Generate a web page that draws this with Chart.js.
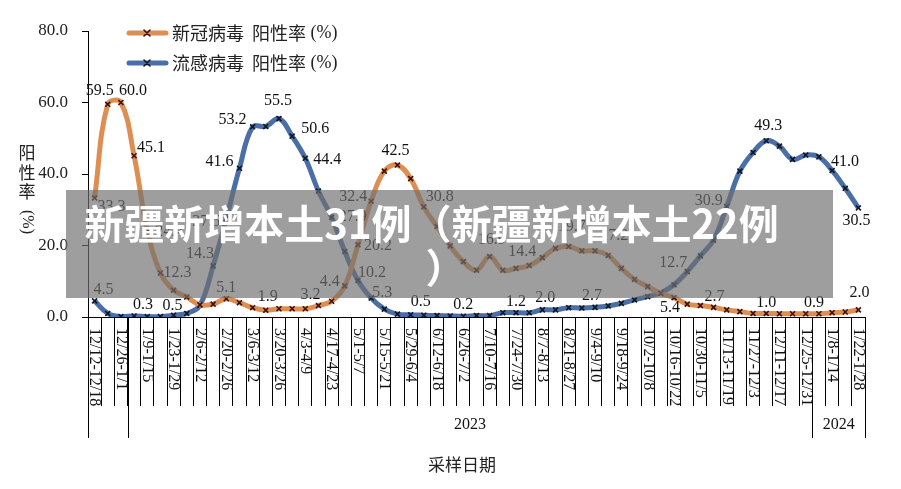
<!DOCTYPE html>
<html>
<head>
<meta charset="utf-8">
<script src="https://cdn.jsdelivr.net/npm/chart.js@4.4.1/dist/chart.umd.min.js"></script>
<style>
  html, body { margin: 0; padding: 0; background: #fff; }
  #wrap { position: relative; width: 901px; height: 489px; }
  #banner {
    position: absolute; left: 66px; top: 190px; width: 767px; height: 108px;
    background: rgba(112, 112, 112, 0.68);
  }
  #banner div {
    position: absolute; left: 0; width: 100%; text-align: center; color: #fff;
    font-family: "Noto Sans CJK SC", sans-serif; font-weight: 700; font-size: 40px;
    line-height: 44px; white-space: nowrap;
  }
</style>
</head>
<body>
<div id="wrap">
  <canvas id="myChart"></canvas>
  <div id="banner">
    <div style="top:10px; margin-left:-18px;">新疆新增本土31例（新疆新增本土22例</div>
    <div style="top:54px; margin-left:-4px;">）</div>
  </div>
</div>
<script>
// 采样周
const weeks = [
  '12/12-12/18', '12/19-12/25', '12/26-1/1', '1/2-1/8', '1/9-1/15', '1/16-1/22',
  '1/23-1/29', '1/30-2/5', '2/6-2/12', '2/13-2/19', '2/20-2/26', '2/27-3/5',
  '3/6-3/12', '3/13-3/19', '3/20-3/26', '3/27-4/2', '4/3-4/9', '4/10-4/16',
  '4/17-4/23', '4/24-4/30', '5/1-5/7', '5/8-5/14', '5/15-5/21', '5/22-5/28',
  '5/29-6/4', '6/5-6/11', '6/12-6/18', '6/19-6/25', '6/26-7/2', '7/3-7/9',
  '7/10-7/16', '7/17-7/23', '7/24-7/30', '7/31-8/6', '8/7-8/13', '8/14-8/20',
  '8/21-8/27', '8/28-9/3', '9/4-9/10', '9/11-9/17', '9/18-9/24', '9/25-10/1',
  '10/2-10/8', '10/9-10/15', '10/16-10/22', '10/23-10/29', '10/30-11/5', '11/6-11/12',
  '11/13-11/19', '11/20-11/26', '11/27-12/3', '12/4-12/10', '12/11-12/17', '12/18-12/24',
  '12/25-12/31', '1/1-1/7', '1/8-1/14', '1/15-1/21', '1/22-1/28'
];

// 年份分组: [年份, 第一周, 最后一周]
const years = [['', 0, 2], ['2023', 3, 54], ['2024', 55, 58]];

const covidRate = [
  33.3, 59.5, 60.0, 45.1, 24.4, 12.3, 7.5, 5.6, 3.4, 3.6,
  5.1, 4.0, 2.6, 1.9, 2.3, 2.3, 2.3, 3.2, 4.4, 8.7,
  20.2, 32.4, 40.8, 42.5, 38.7, 30.8, 25.3, 19.9, 15.5, 13.1,
  16.9, 13.1, 13.6, 14.4, 16.6, 19.2, 19.7, 18.5, 18.5, 17.2,
  13.6, 10.5, 8.5, 6.6, 5.4, 3.6, 3.2, 2.7, 2.0, 1.5,
  1.0, 1.0, 0.9, 0.9, 0.9, 0.9, 1.2, 1.4, 2.0
];

const fluRate = [
  4.5, 1.0, 0.1, 0.3, 0.1, 0.1, 0.5, 1.0, 3.3, 14.3,
  27.5, 41.6, 53.2, 53.3, 55.5, 50.6, 44.4, 35.2, 27.9, 18.3,
  10.2, 5.3, 2.2, 0.8, 0.6, 0.5, 0.4, 0.3, 0.2, 0.4,
  0.4, 1.2, 1.2, 1.2, 2.0, 2.0, 2.6, 2.5, 2.7, 3.1,
  3.8, 4.8, 5.7, 6.8, 9.0, 12.7, 17.1, 21.5, 30.9, 40.8,
  46.0, 49.3, 47.8, 44.1, 45.3, 44.8, 41.0, 36.0, 30.5
];

const yTicks = [0, 20, 40, 60, 80];

// 数据标签: 点的序号 -> 标签中心相对于点的偏移
const covidLabelAt = {
  0: [17, 9], 1: [-8, -13], 2: [12, -12], 3: [17, -8], 4: [22, 2], 5: [17, 0],
  10: [0, -11], 13: [2, -13], 17: [-8, -11], 18: [-2, -19], 20: [20, 1], 21: [-18, -4],
  23: [-2, -14], 25: [16, -10], 30: [2, -17], 33: [-7, -14], 36: [3, -20], 39: [6, -20],
  44: [-4, 10], 47: [1, -11], 51: [0, -11], 55: [-5, -11], 58: [1, -17]
};
const fluLabelAt = {
  0: [9, -11], 3: [9, -11], 6: [-1, -9], 9: [-13, -12], 10: [-20, 3], 11: [-20, -6],
  12: [-20, -7], 14: [-1, -18], 15: [23, -7], 16: [22, 2], 18: [21, 0], 20: [14, -8],
  21: [11, -5], 25: [-3, -13], 28: [0, -11], 32: [0, -11], 34: [3, -12], 38: [-3, -12],
  45: [-14, -9], 48: [-18, -6], 51: [2, -15], 56: [13, -9], 58: [-2, 13]
};

const serif = '"Liberation Serif", "Times New Roman", serif';
const cjk = '"Noto Sans CJK SC", sans-serif';

function drawCross(ctx, x, y, r, color) {
  ctx.save();
  ctx.strokeStyle = color;
  ctx.lineWidth = 1.6;
  ctx.beginPath();
  ctx.moveTo(x - r, y - r); ctx.lineTo(x + r, y + r);
  ctx.moveTo(x + r, y - r); ctx.lineTo(x - r, y + r);
  ctx.stroke();
  ctx.restore();
}

const extras = {
  id: 'extras',
  afterDatasetsDraw(chart) {
    const ctx = chart.ctx;
    ctx.save();
    ctx.font = '16px ' + serif;
    ctx.fillStyle = '#111';
    ctx.textAlign = 'center';
    ctx.textBaseline = 'middle';
    [covidLabelAt, fluLabelAt].forEach((at, di) => {
      const meta = chart.getDatasetMeta(di);
      const vals = chart.data.datasets[di].data;
      Object.keys(at).forEach(k => {
        const p = meta.data[+k];
        ctx.fillText(vals[+k].toFixed(1), p.x + at[k][0], p.y + at[k][1]);
      });
    });
    ctx.restore();
  },
  afterDraw(chart) {
    const ctx = chart.ctx;
    const x = chart.scales.x;
    const area = chart.chartArea;
    const step = x.getPixelForValue(1) - x.getPixelForValue(0);
    ctx.save();

    // x 轴标签 (竖排, 每两周一个)
    ctx.font = '16px ' + serif;
    ctx.fillStyle = '#111';
    ctx.textAlign = 'left';
    ctx.textBaseline = 'middle';
    weeks.forEach((w, i) => {
      if (i % 2) return;
      ctx.save();
      ctx.translate(x.getPixelForValue(i), area.bottom + 11);
      ctx.rotate(Math.PI / 2);
      ctx.fillText(w, 0, 0);
      ctx.restore();
    });

    // 年份分组
    ctx.strokeStyle = '#000';
    ctx.lineWidth = 1;
    ctx.font = '16px ' + serif;
    ctx.textAlign = 'center';
    years.forEach(([label, a, b]) => {
      const l = x.getPixelForValue(a) - step / 2;
      const r = x.getPixelForValue(b) + step / 2;
      [l, r].forEach(px => {
        ctx.beginPath();
        ctx.moveTo(Math.round(px) + 0.5, area.bottom);
        ctx.lineTo(Math.round(px) + 0.5, area.bottom + 121);
        ctx.stroke();
      });
      if (label) ctx.fillText(label, (l + r) / 2, area.bottom + 108);
    });

    // x 轴标题
    ctx.font = '17px ' + cjk;
    ctx.fillStyle = '#222';
    ctx.fillText('采样日期', 462, 465);

    // y 轴标题
    ctx.fillText('阳', 27, 153);
    ctx.fillText('性', 27, 173);
    ctx.fillText('率', 27, 192);
    ctx.save();
    ctx.translate(27, 222);
    ctx.rotate(Math.PI / 2);
    ctx.font = '16px ' + serif;
    ctx.fillText('(%)', 0, 0);
    ctx.restore();

    // 图例
    chart.data.datasets.forEach((ds, i) => {
      const y = 33 + i * 30;
      ctx.strokeStyle = ds.borderColor;
      ctx.lineWidth = 5;
      ctx.lineCap = 'round';
      ctx.beginPath();
      ctx.moveTo(129, y); ctx.lineTo(166, y);
      ctx.stroke();
      drawCross(ctx, 147, y, 3, ds.pointBorderColor);
      ctx.fillStyle = '#222';
      ctx.textAlign = 'left';
      ctx.font = '18px ' + cjk;
      ctx.fillText(ds.label, 172, y);
      const w = ctx.measureText(ds.label).width;
      ctx.font = '18px ' + serif;
      ctx.fillText(' (%)', 172 + w, y);
    });
    ctx.restore();
  }
};

new Chart(document.getElementById('myChart'), {
  type: 'line',
  data: {
    labels: weeks,
    datasets: [
      {
        label: '新冠病毒  阳性率',
        data: covidRate,
        borderColor: '#DE8E50',
        borderWidth: 5,
        tension: 0.4,
        pointStyle: 'crossRot',
        pointRadius: 3.5,
        pointBorderWidth: 1.6,
        pointBorderColor: '#3d1010',
        fill: false
      },
      {
        label: '流感病毒  阳性率',
        data: fluRate,
        borderColor: '#4A6FA6',
        borderWidth: 5,
        tension: 0.4,
        pointStyle: 'crossRot',
        pointRadius: 3.5,
        pointBorderWidth: 1.6,
        pointBorderColor: '#0f1626',
        fill: false
      }
    ]
  },
  options: {
    responsive: true,
    maintainAspectRatio: false,
    animation: false,
    layout: { padding: { left: 0, top: 31, right: 36, bottom: 0 } },
    plugins: { legend: { display: false }, tooltip: { enabled: false } },
    scales: {
      x: {
        offset: true,
        grid: { offset: true, drawOnChartArea: false, drawTicks: true, tickLength: 89, color: '#000' },
        border: { color: '#000', width: 1 },
        ticks: { display: false, autoSkip: false },
        afterFit: s => { s.height = 172; }
      },
      y: {
        min: 0,
        max: 80,
        afterBuildTicks: s => { s.ticks = yTicks.map(v => ({ value: v })); },
        grid: { drawOnChartArea: false, tickLength: 6, color: '#000' },
        border: { color: '#000', width: 1 },
        ticks: {
          padding: 14,
          color: '#222',
          font: { family: serif, size: 17 },
          callback: v => v.toFixed(1)
        },
        afterFit: s => { s.width = 88; }
      }
    }
  },
  plugins: [extras]
});
</script>
</body>
</html>
